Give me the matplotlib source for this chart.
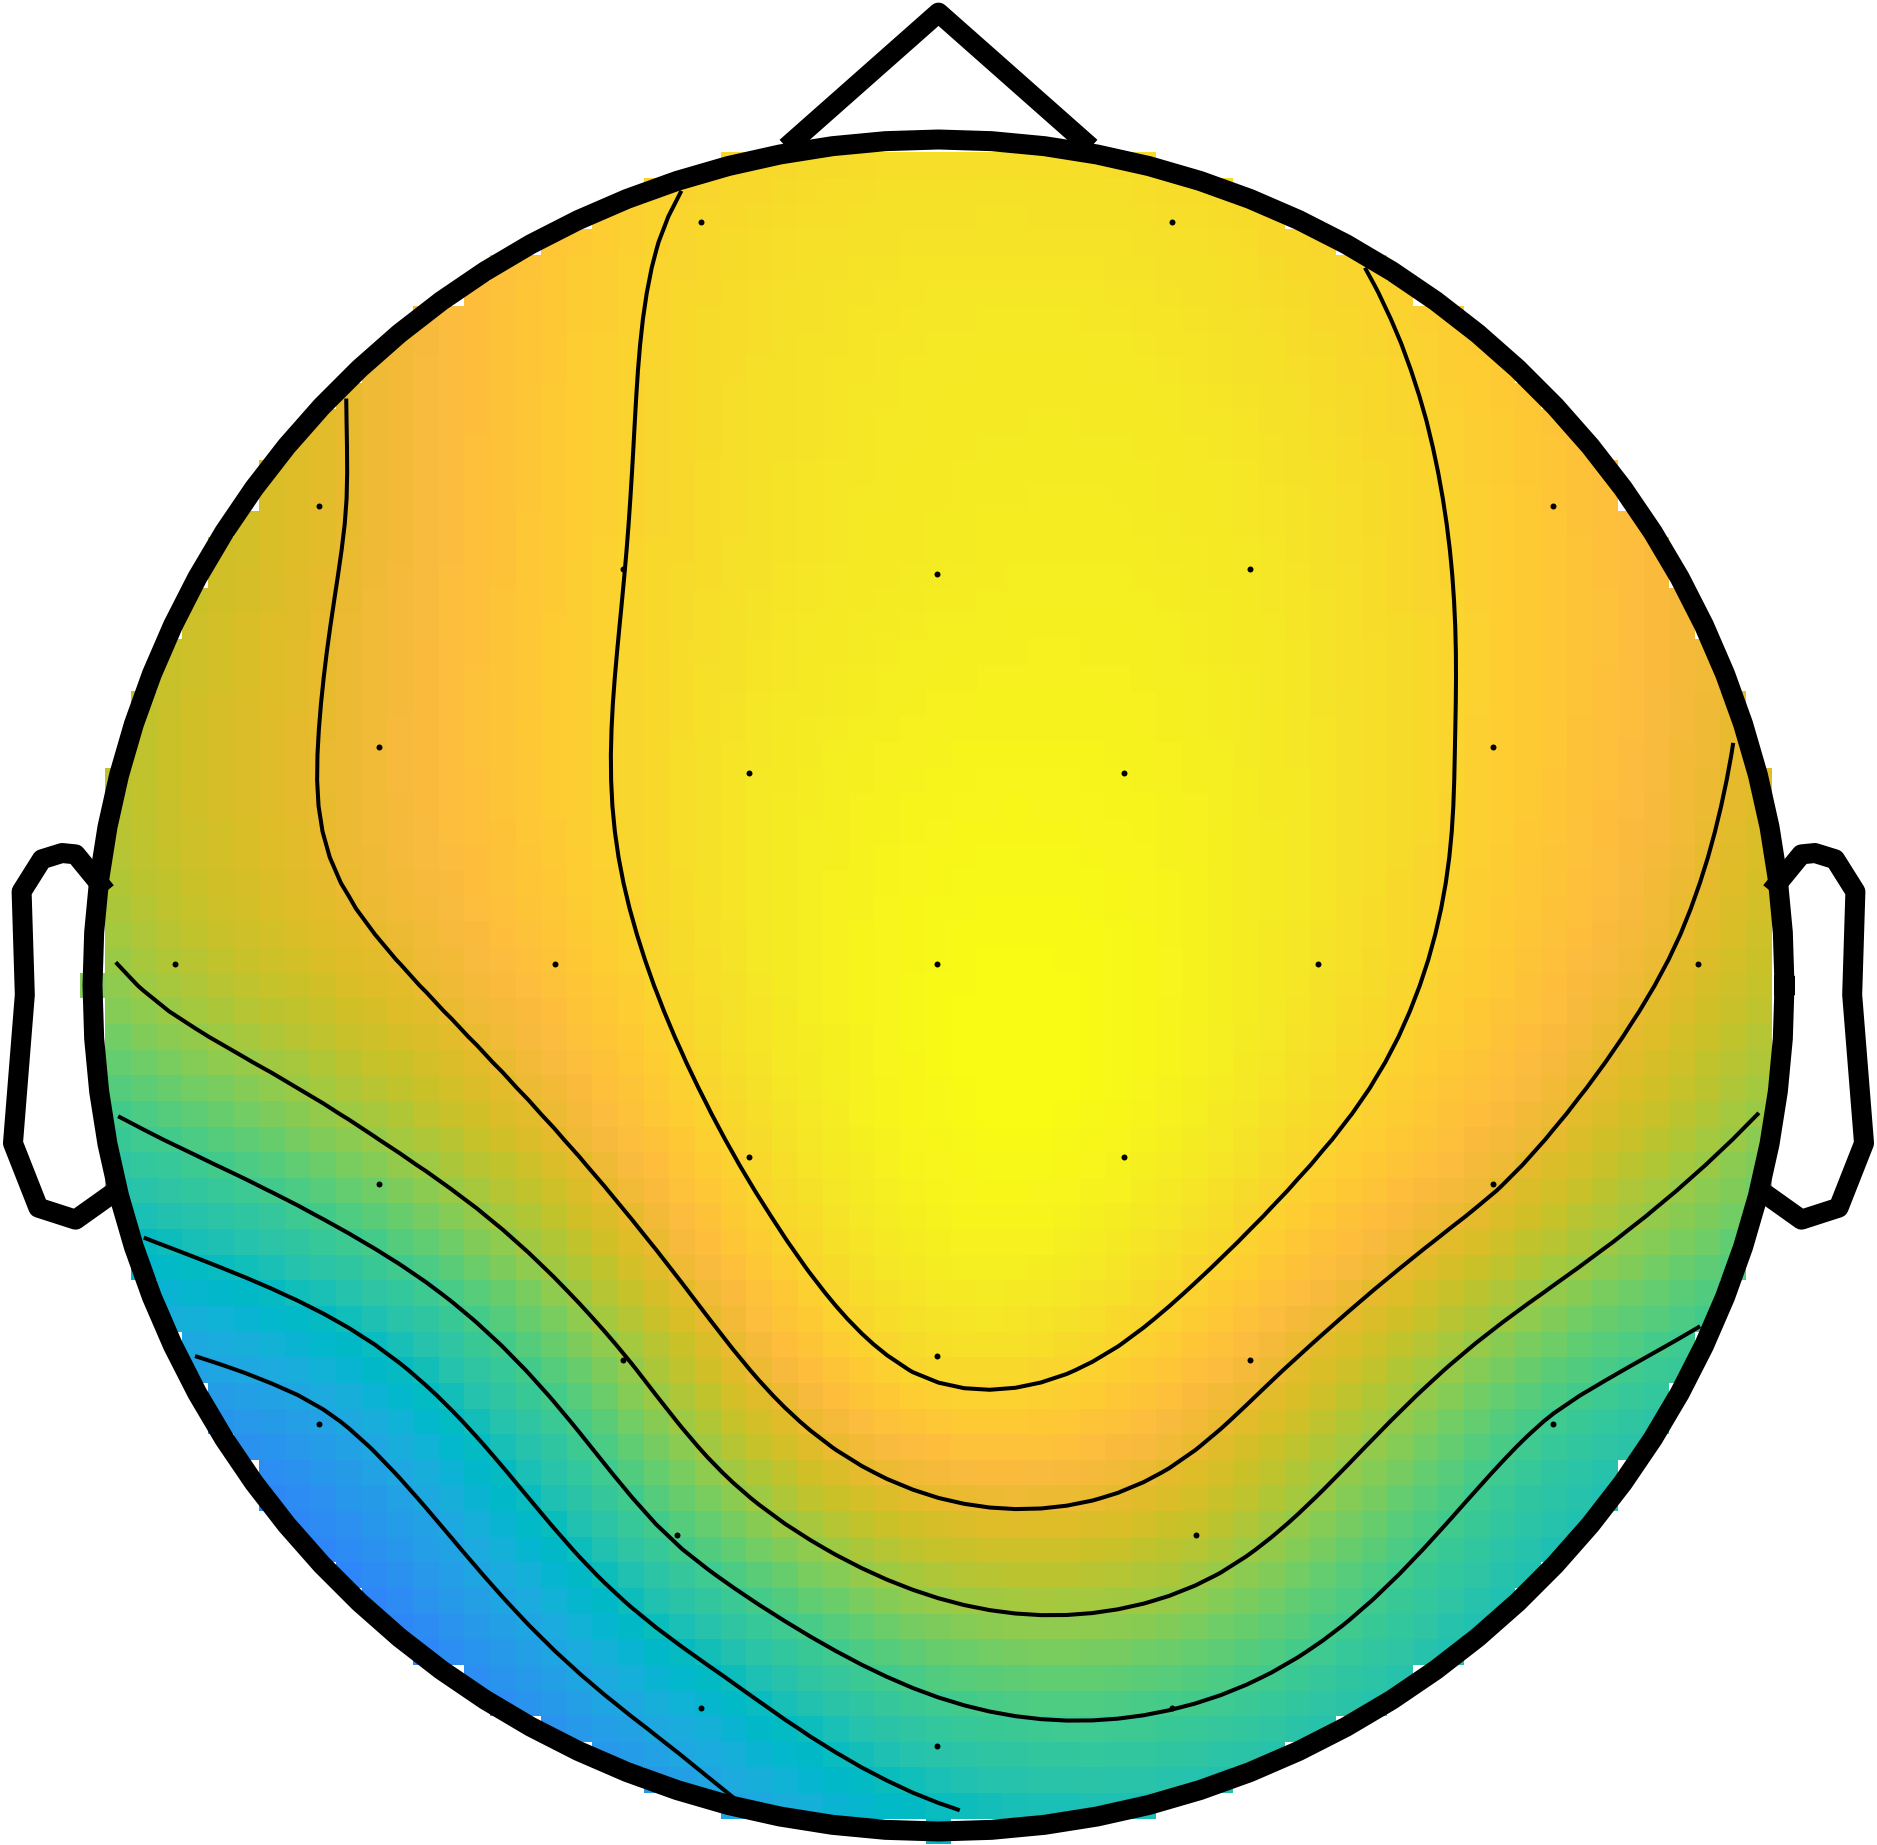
import numpy as np
import matplotlib
matplotlib.use("Agg")
import matplotlib.pyplot as plt
from matplotlib.colors import LinearSegmentedColormap

# ---------------- data ----------------
channels = ["Fp1", "Fp2", "F7", "F3", "Fz", "F4", "F8", "FC5", "FC1", "FC2", "FC6",
            "T7", "C3", "Cz", "C4", "T8", "CP5", "CP1", "CP2", "CP6",
            "P7", "P3", "Pz", "P4", "P8", "PO3", "PO4", "O1", "Oz", "O2"]
# channel locations (units of head radius, x to the right, y toward the nose)
chan_x = [-0.281, 0.276, -0.732, -0.373, -0.002, 0.368, 0.726, -0.661, -0.224, 0.219, 0.656,
          -0.903, -0.453, -0.002, 0.448, 0.898, -0.661, -0.224, 0.219, 0.656,
          -0.732, -0.373, -0.002, 0.368, 0.726, -0.309, 0.304, -0.281, -0.002, 0.276]
chan_y = [0.902, 0.902, 0.567, 0.492, 0.486, 0.492, 0.567, 0.282, 0.251, 0.251, 0.282,
          0.025, 0.025, 0.025, 0.025, 0.025, -0.235, -0.203, -0.203, -0.235,
          -0.518, -0.443, -0.438, -0.443, -0.518, -0.649, -0.649, -0.854, -0.899, -0.854]
# channel values (microvolts)
values = [4.86, 5.10, 3.42, 4.75, 5.46, 5.35, 4.35, 3.75, 5.30, 5.70, 4.60,
          2.64, 4.26, 5.88, 5.22, 3.35, 1.87, 4.86, 5.70, 3.60,
          -1.56, 2.24, 4.98, 3.84, 1.00, 1.20, 2.81, -0.72, 0.50, 1.10]

# MATLAB parula (64 rows)
parula_rows = [
    [0.2422, 0.1504, 0.6603], [0.2504, 0.1650, 0.7076], [0.2578, 0.1818, 0.7511], [0.2647, 0.1978, 0.7952],
    [0.2706, 0.2147, 0.8364], [0.2751, 0.2342, 0.8710], [0.2783, 0.2559, 0.8991], [0.2803, 0.2782, 0.9221],
    [0.2813, 0.3006, 0.9414], [0.2810, 0.3228, 0.9579], [0.2795, 0.3447, 0.9717], [0.2760, 0.3667, 0.9829],
    [0.2699, 0.3892, 0.9906], [0.2602, 0.4123, 0.9952], [0.2440, 0.4358, 0.9988], [0.2206, 0.4603, 0.9973],
    [0.1963, 0.4847, 0.9892], [0.1834, 0.5074, 0.9798], [0.1786, 0.5289, 0.9682], [0.1764, 0.5499, 0.9520],
    [0.1687, 0.5703, 0.9359], [0.1540, 0.5902, 0.9218], [0.1460, 0.6091, 0.9079], [0.1380, 0.6276, 0.8973],
    [0.1248, 0.6459, 0.8883], [0.1113, 0.6635, 0.8763], [0.0952, 0.6798, 0.8598], [0.0689, 0.6948, 0.8394],
    [0.0297, 0.7082, 0.8163], [0.0036, 0.7203, 0.7917], [0.0067, 0.7312, 0.7660], [0.0433, 0.7411, 0.7394],
    [0.0964, 0.7500, 0.7120], [0.1408, 0.7584, 0.6842], [0.1717, 0.7670, 0.6554], [0.1938, 0.7758, 0.6251],
    [0.2161, 0.7843, 0.5923], [0.2470, 0.7918, 0.5567], [0.2906, 0.7973, 0.5188], [0.3406, 0.8008, 0.4789],
    [0.3909, 0.8029, 0.4354], [0.4456, 0.8024, 0.3909], [0.5044, 0.7993, 0.3480], [0.5616, 0.7942, 0.3045],
    [0.6174, 0.7876, 0.2612], [0.6720, 0.7793, 0.2227], [0.7242, 0.7698, 0.1910], [0.7738, 0.7598, 0.1646],
    [0.8203, 0.7498, 0.1535], [0.8634, 0.7406, 0.1596], [0.9035, 0.7330, 0.1774], [0.9393, 0.7288, 0.2100],
    [0.9728, 0.7298, 0.2394], [0.9956, 0.7434, 0.2371], [0.9970, 0.7659, 0.2199], [0.9952, 0.7893, 0.2028],
    [0.9892, 0.8136, 0.1885], [0.9786, 0.8386, 0.1766], [0.9676, 0.8639, 0.1643], [0.9610, 0.8890, 0.1537],
    [0.9597, 0.9135, 0.1423], [0.9628, 0.9373, 0.1265], [0.9691, 0.9606, 0.1064], [0.9769, 0.9839, 0.0805]]

# ---------------- layout ----------------
W, H, DPI = 1877, 1845, 100
CX, CY, S = 938.5, 985.5, 1692.0   # head centre (px) and px per unit (head radius = 0.5)
RMAX = 0.5
GRID = 67
HEAD_PTS = 101
HEAD_LW = 14.4
CONT_LW = 2.9

cmap = LinearSegmentedColormap.from_list("parula", parula_rows, N=256)

# electrode coordinates in topoplot units (head radius 0.5)
ex = np.asarray(chan_x) * RMAX
ey = np.asarray(chan_y) * RMAX
ez = np.asarray(values, dtype=float)

# biharmonic spline interpolation (griddata 'v4')
def green(d):
    with np.errstate(divide="ignore", invalid="ignore"):
        g = d ** 2 * (np.log(d) - 1.0)
    g[d == 0] = 0.0
    return g

D = np.hypot(ex[:, None] - ex[None, :], ey[:, None] - ey[None, :])
wts = np.linalg.solve(green(D), ez)
xi = np.linspace(-RMAX, RMAX, GRID)
yi = np.linspace(-RMAX, RMAX, GRID)
Xi, Yi = np.meshgrid(xi, yi)
Dg = np.hypot(Xi[..., None] - ex, Yi[..., None] - ey)
Zi = green(Dg) @ wts
mask = np.hypot(Xi, Yi) <= RMAX
Zm = np.ma.masked_where(~mask, Zi)

amax = float(np.abs(Zm).max())
zmin, zmax = float(Zm.min()), float(Zm.max())
levels = np.linspace(zmin, zmax, 8)[1:-1]

fig = plt.figure(figsize=(W / DPI, H / DPI), dpi=DPI)
ax = fig.add_axes([0, 0, 1, 1])
ax.set_xlim((0 - CX) / S, (W - CX) / S)
ax.set_ylim((CY - H) / S, CY / S)
ax.axis("off")

delta = xi[1] - xi[0]
xe = xi - delta / 2
ye = yi - delta / 2
ax.pcolormesh(xe, ye, Zm[:-1, :-1], cmap=cmap, vmin=-amax, vmax=amax,
              shading="flat", antialiased=False, linewidth=0, zorder=1)

ax.contour(Xi, Yi, Zm, levels=levels, colors="k", linewidths=CONT_LW,
           linestyles="solid", zorder=2)

# head outline
t = np.linspace(0, 2 * np.pi, HEAD_PTS)
ax.plot(RMAX * np.cos(t), RMAX * np.sin(t), color="k", lw=HEAD_LW, zorder=4,
        solid_joinstyle="round")
# nose
base = RMAX - 0.0046
basex = 0.18 * RMAX
tip = 1.15 * RMAX
ax.plot([basex, 0, -basex], [base, tip, base],
        color="k", lw=HEAD_LW, solid_joinstyle="round", solid_capstyle="butt", zorder=4)
# ears
ear_x = np.array([.497 - .005, .510, .518, .5299, .5419, .54, .547, .532, .510, .489 - .005])
ear_y = np.array([.0555, .0775, .0783, .0746, .0555, -.0055, -.0932, -.1313, -.1384, -.1199])
for sgn in (1, -1):
    ax.plot(sgn * ear_x, ear_y, color="k", lw=HEAD_LW, solid_joinstyle="round",
            solid_capstyle="butt", zorder=4)

# electrodes
ax.plot(ex, ey, linestyle="none", marker="o", ms=4.3, mfc="k", mec="none", zorder=5)

fig.savefig("out.png", dpi=DPI, facecolor="white")
